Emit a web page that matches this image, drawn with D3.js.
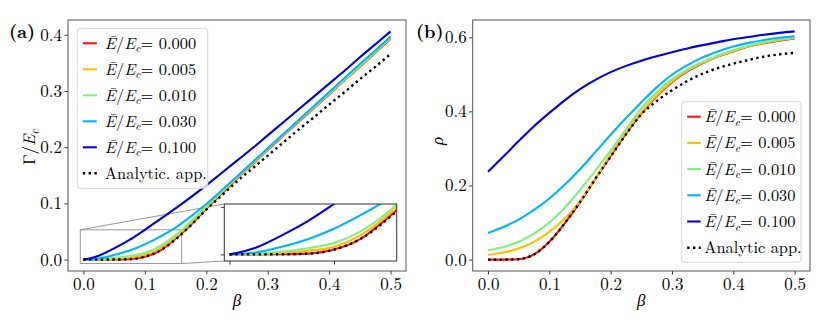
<!DOCTYPE html>
<html><head><meta charset="utf-8">
<script src="https://cdn.jsdelivr.net/npm/d3@7"></script>
<style>
body{margin:0;background:#fff}
</style>
</head><body>
<svg id="c" width="830" height="332" font-family="Latin Modern Roman, Liberation Serif, serif"></svg>
<script>
// ---------- data ----------
const beta = [0,0.025,0.05,0.075,0.1,0.125,0.15,0.175,0.2,0.225,0.25,0.275,0.3,0.325,0.35,0.375,0.4,0.425,0.45,0.475,0.5];
const seriesLabels = ["0.000","0.005","0.010","0.030","0.100"];
const seriesColors = ["#ff1010","#ffbf00","#80f080","#00b4ff","#0000e0"];

// panel (a): Gamma / E_c
const gammaE000 = [0,0,0.0001,0.0008,0.005,0.016,0.037,0.062,0.090,0.117,0.144,0.169,0.195,0.220,0.245,0.269,0.294,0.319,0.343,0.368,0.393];
const gammaE005 = [0,0.0003,0.0017,0.0038,0.008,0.020,0.040,0.065,0.092,0.119,0.145,0.170,0.196,0.221,0.246,0.270,0.295,0.320,0.344,0.369,0.394];
const gammaE010 = [0,0.0007,0.003,0.0065,0.012,0.024,0.043,0.068,0.095,0.121,0.147,0.172,0.197,0.222,0.247,0.271,0.296,0.321,0.345,0.370,0.395];
const gammaE030 = [0,0.002,0.008,0.016,0.027,0.041,0.057,0.077,0.099,0.123,0.148,0.173,0.198,0.223,0.248,0.273,0.298,0.323,0.348,0.372,0.397];
const gammaE100 = [0,0.007,0.020,0.035,0.053,0.072,0.091,0.111,0.132,0.154,0.176,0.198,0.221,0.244,0.267,0.290,0.313,0.336,0.360,0.383,0.406];
const gammaAnalytic = [0,0,0.0001,0.0007,0.005,0.016,0.036,0.061,0.089,0.114,0.139,0.162,0.185,0.208,0.231,0.253,0.276,0.298,0.321,0.343,0.366];

// panel (b): rho
const rhoE000 = [0,0,0.001,0.014,0.048,0.098,0.155,0.218,0.280,0.340,0.395,0.441,0.479,0.508,0.530,0.548,0.562,0.575,0.584,0.591,0.597];
const rhoE005 = [0.013,0.019,0.030,0.048,0.075,0.110,0.157,0.219,0.285,0.345,0.398,0.443,0.481,0.510,0.531,0.549,0.563,0.576,0.585,0.592,0.598];
const rhoE010 = [0.025,0.034,0.048,0.070,0.100,0.140,0.188,0.240,0.295,0.352,0.408,0.452,0.487,0.513,0.533,0.551,0.565,0.577,0.587,0.594,0.600];
const rhoE030 = [0.072,0.088,0.108,0.134,0.165,0.202,0.244,0.290,0.337,0.382,0.425,0.465,0.499,0.525,0.546,0.562,0.575,0.585,0.593,0.599,0.603];
const rhoE100 = [0.237,0.278,0.320,0.360,0.396,0.430,0.460,0.485,0.506,0.523,0.537,0.549,0.560,0.570,0.579,0.587,0.595,0.601,0.607,0.612,0.616];
const rhoAnalytic = [0,0,0.001,0.014,0.048,0.098,0.155,0.218,0.278,0.338,0.392,0.428,0.457,0.482,0.502,0.517,0.529,0.539,0.548,0.554,0.558];

const xTicks = [0,0.1,0.2,0.3,0.4,0.5];
const yTicksA = [0,0.1,0.2,0.3,0.4];
const yTicksB = [0,0.2,0.4,0.6];
const insetXTicks = [0,0.1];
const insetYTicks = [0,0.05];

// ---------- drawing ----------
const FONT = "Latin Modern Roman, Liberation Serif, serif";
const svg = d3.select("#c");
const FS = 17;

function mathLabel(sel, value, fs){
  sel.append("tspan").attr("font-style","italic").text("\u0112");
  sel.append("tspan").text("/");
  sel.append("tspan").attr("font-style","italic").text("E");
  sel.append("tspan").attr("font-style","italic").attr("font-size",fs*0.7).attr("dy",3.5).text("c");
  sel.append("tspan").attr("dy",-3.5).text("= "+value);
}

function panel(opts){
  const x = d3.scaleLinear().domain([-0.025,0.525]).range([opts.left,opts.right]);
  const y = d3.scaleLinear().domain(opts.ydom).range([opts.bottom,opts.top]);
  const g = svg.append("g");
  const cid = "clip"+opts.id;
  svg.append("clipPath").attr("id",cid).append("rect")
    .attr("x",opts.left).attr("y",opts.top).attr("width",opts.right-opts.left).attr("height",opts.bottom-opts.top);

  const ax = g.append("g").attr("transform",`translate(0,${opts.bottom})`)
    .call(d3.axisBottom(x).tickValues(xTicks).tickFormat(d3.format(".1f")).tickSize(3.5).tickPadding(3.5));
  const ay = g.append("g").attr("transform",`translate(${opts.left},0)`)
    .call(d3.axisLeft(y).tickValues(opts.yticks).tickFormat(d3.format(".1f")).tickSize(3.5).tickPadding(2.5));
  [ax,ay].forEach(a=>{
    a.attr("font-family",FONT).attr("font-size",FS);
    a.select(".domain").remove();
    a.selectAll("text").attr("font-size",FS).attr("font-family",FONT).attr("fill","#000");
    a.selectAll("line").attr("stroke","#222").attr("stroke-width",0.9);
  });

  if(opts.before) opts.before(g,x,y);

  const line = d3.line().x((d,i)=>x(beta[i])).y(d=>y(d)).curve(d3.curveMonotoneX);
  const lg = g.append("g").attr("clip-path",`url(#${cid})`);
  opts.series.forEach((s,i)=>{
    lg.append("path").attr("d",line(s)).attr("fill","none")
      .attr("stroke",seriesColors[i]).attr("stroke-width",2.1);
  });
  lg.append("path").attr("d",line(opts.analytic)).attr("fill","none")
    .attr("stroke","#000").attr("stroke-width",2.4).attr("stroke-dasharray","2.4,3.4");

  g.append("rect").attr("x",opts.left).attr("y",opts.top)
    .attr("width",opts.right-opts.left).attr("height",opts.bottom-opts.top)
    .attr("fill","none").attr("stroke","#555").attr("stroke-width",1);

  g.append("text").attr("x",(opts.left+opts.right)/2).attr("y",306).attr("font-family",FONT)
    .attr("text-anchor","middle").attr("font-size",FS).attr("font-style","italic").text("\u03b2");
  opts.ylabel(g);

  g.append("text").attr("x",opts.plx).attr("y",38).attr("font-size",FS+1).attr("font-family",FONT)
    .attr("font-weight","bold").text(opts.plabel);

  const L = opts.legend;
  const lgd = g.append("g");
  lgd.append("rect").attr("x",L.x).attr("y",L.y).attr("width",L.w).attr("height",L.h)
    .attr("rx",3).attr("fill","#fff").attr("fill-opacity",0.8).attr("stroke","#d6d6d6").attr("stroke-width",1);
  seriesLabels.forEach((lab,i)=>{
    const cy = L.y + L.first + i*L.pitch;
    lgd.append("line").attr("x1",L.x+L.hx).attr("x2",L.x+L.hx+L.hl).attr("y1",cy).attr("y2",cy)
      .attr("stroke",seriesColors[i]).attr("stroke-width",2.1);
    const t = lgd.append("text").attr("x",L.x+L.tx).attr("y",cy+5.5).attr("font-size",L.fs).attr("font-family",FONT);
    mathLabel(t,lab,L.fs);
  });
  const cy = L.y + L.first + 5*L.pitch;
  lgd.append("line").attr("x1",L.x+L.hx).attr("x2",L.x+L.hx+L.hl).attr("y1",cy).attr("y2",cy)
    .attr("stroke","#000").attr("stroke-width",2.4).attr("stroke-dasharray","2.4,3.4");
  lgd.append("text").attr("x",L.x+L.tx).attr("y",cy+5.5).attr("font-size",L.fs).attr("font-family",FONT).text(opts.analyticLabel);

  return {x,y,g};
}

// ---- panel (a) ----
const insetBox = {left:224.3,right:396.7,top:204,bottom:261};
const insetXDom = [-0.005,0.16], insetYDom = [-0.007,0.053];

panel({
  id:"a", left:68, right:406, top:20, bottom:271, ydom:[-0.0203,0.4263], yticks:yTicksA,
  series:[gammaE000,gammaE005,gammaE010,gammaE030,gammaE100], analytic:gammaAnalytic,
  plx:9, plabel:"(a)", analyticLabel:"Analytic. app.",
  ylabel:(g)=>{
    const t = g.append("text").attr("transform","translate(35,147) rotate(-90)").attr("font-family",FONT)
      .attr("text-anchor","middle").attr("font-size",FS);
    t.append("tspan").text("\u0393/");
    t.append("tspan").attr("font-style","italic").text("E");
    t.append("tspan").attr("font-style","italic").attr("font-size",12).attr("dy",3.5).text("c");
  },
  before:(g,x,y)=>{
    g.append("rect").attr("x",x(insetXDom[0])).attr("y",y(insetYDom[1]))
      .attr("width",x(insetXDom[1])-x(insetXDom[0])).attr("height",y(insetYDom[0])-y(insetYDom[1]))
      .attr("fill","none").attr("stroke","#9a9a9a").attr("stroke-width",1);
    g.append("line").attr("x1",x(insetXDom[0])).attr("y1",y(insetYDom[1]))
      .attr("x2",insetBox.left).attr("y2",insetBox.top).attr("stroke","#8a8a8a").attr("stroke-width",0.9);
    g.append("line").attr("x1",x(insetXDom[1])).attr("y1",y(insetYDom[0]))
      .attr("x2",insetBox.left).attr("y2",insetBox.bottom).attr("stroke","#8a8a8a").attr("stroke-width",0.9);
  },
  legend:{x:77.3,y:28.3,w:130.4,h:160,first:15,pitch:26,hx:5.5,hl:14,tx:27.5,fs:16.4}
});

// inset
(function(){
  const xi = d3.scaleLinear().domain(insetXDom).range([insetBox.left,insetBox.right]);
  const yi = d3.scaleLinear().domain(insetYDom).range([insetBox.bottom,insetBox.top]);
  const g = svg.append("g");
  svg.append("clipPath").attr("id","clipInset").append("rect")
    .attr("x",insetBox.left).attr("y",insetBox.top)
    .attr("width",insetBox.right-insetBox.left).attr("height",insetBox.bottom-insetBox.top);
  g.append("rect").attr("x",insetBox.left).attr("y",insetBox.top)
    .attr("width",insetBox.right-insetBox.left).attr("height",insetBox.bottom-insetBox.top).attr("fill","#fff");
  const ax = g.append("g").attr("transform",`translate(0,${insetBox.bottom})`)
    .call(d3.axisBottom(xi).tickValues(insetXTicks).tickFormat("").tickSize(3.5));
  const ay = g.append("g").attr("transform",`translate(${insetBox.left},0)`)
    .call(d3.axisLeft(yi).tickValues(insetYTicks).tickFormat("").tickSize(3.5));
  [ax,ay].forEach(a=>{a.select(".domain").remove();a.selectAll("text").remove();a.selectAll("line").attr("stroke","#222").attr("stroke-width",0.9);});
  const line = d3.line().x((d,i)=>xi(beta[i])).y(d=>yi(d)).curve(d3.curveMonotoneX);
  const lg = g.append("g").attr("clip-path","url(#clipInset)");
  [gammaE000,gammaE005,gammaE010,gammaE030,gammaE100].forEach((s,i)=>{
    lg.append("path").attr("d",line(s)).attr("fill","none").attr("stroke",seriesColors[i]).attr("stroke-width",2.1);
  });
  lg.append("path").attr("d",line(gammaAnalytic)).attr("fill","none")
    .attr("stroke","#000").attr("stroke-width",2.4).attr("stroke-dasharray","2.4,3.4");
  g.append("rect").attr("x",insetBox.left).attr("y",insetBox.top)
    .attr("width",insetBox.right-insetBox.left).attr("height",insetBox.bottom-insetBox.top)
    .attr("fill","none").attr("stroke","#333").attr("stroke-width",1);
})();

// ---- panel (b) ----
panel({
  id:"b", left:472.7, right:810, top:20, bottom:271, ydom:[-0.0308,0.6468], yticks:yTicksB,
  series:[rhoE000,rhoE005,rhoE010,rhoE030,rhoE100], analytic:rhoAnalytic,
  plx:416, plabel:"(b)", analyticLabel:"Analytic app.",
  ylabel:(g)=>{
    g.append("text").attr("transform","translate(443,141) rotate(-90)").attr("font-family",FONT)
      .attr("text-anchor","middle").attr("font-size",FS).attr("font-style","italic").text("\u03c1");
  },
  legend:{x:681.7,y:101.7,w:119.3,h:160.6,first:15,pitch:26.2,hx:5.5,hl:13.5,tx:22.5,fs:16.4}
});
</script>
</body></html>
